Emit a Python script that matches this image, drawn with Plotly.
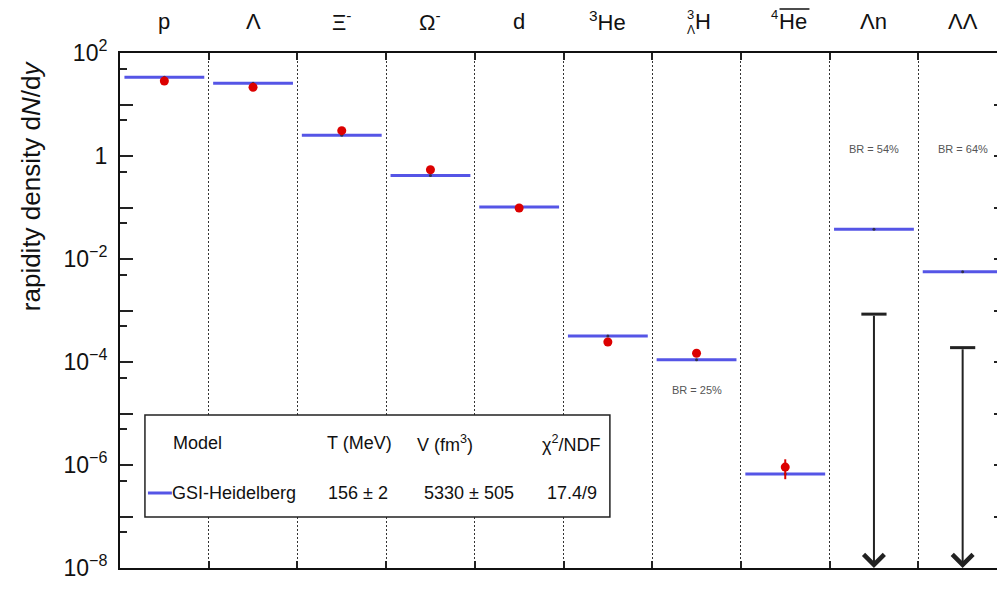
import plotly.graph_objects as go
import numpy as np

# ---------------- data ----------------
categories = ["p", "Λ", "Ξ<sup>-</sup>", "Ω<sup>-</sup>", "d", "<sup>3</sup>He",
              "H", "He", "Λn", "ΛΛ"]
cat_index = list(range(len(categories)))

# GSI-Heidelberg model yields (blue lines)
model_values = [33.7, 25.8, 2.52, 0.42, 0.102, 3.2e-4, 1.1e-4, 6.7e-7, 3.77e-2, 5.66e-3]

# measured yields (red points) for the first 8 species
data_index = [0, 1, 2, 3, 4, 5, 6, 7]
data_values = [28.6, 21.6, 3.1, 0.54, 0.098, 2.45e-4, 1.48e-4, 9.1e-7]
data_errors = [0.5, 0.4, 0.1, 0.02, 0.003, 0.35e-4, 0.2e-4, 0.38e-6]

# upper limits (arrows)
limit_index = [8, 9]
limit_values = [8.5e-4, 1.9e-4]

br_labels = ["BR = 25%", "BR = 54%", "BR = 64%"]

ytick_vals = [10.0 ** e for e in range(2, -9, -1)]
ytick_text = ["10<sup>2</sup>", "", "1", "", "10<sup>−2</sup>", "", "10<sup>−4</sup>", "",
              "10<sup>−6</sup>", "", "10<sup>−8</sup>"]
yminor_vals = [5 * 10.0 ** e for e in range(1, -9, -1)]

legend_header = ["Model", "T (MeV)", "V (fm<sup>3</sup>)", "χ<sup>2</sup>/NDF"]
legend_row = ["GSI-Heidelberg", "156 ± 2", "5330 ± 505", "17.4/9"]

BLUE = "rgb(85,85,230)"
RED = "rgb(220,0,0)"
FONT = "Liberation Sans, Arial, Helvetica, sans-serif"

OFF = 8  # page body margin offset
W, H = 1001, 582
L, R, T, B = 112, 0, 45, 22
pw, ph = W - L - R, H - T - B
x_lo, x_hi = -0.5, 9.5


def px(X):  # screen pixel -> paper x
    return (X - OFF - L) / pw


def py(Y):  # screen pixel -> paper y
    return (H - B - (Y - OFF)) / ph


fig = go.Figure()

# model lines as horizontal error bars
fig.add_trace(go.Scatter(
    x=cat_index, y=model_values, mode="markers",
    marker=dict(size=3, color="rgba(40,40,40,0.8)"),
    error_x=dict(type="constant", value=0.45, color=BLUE, thickness=3, width=0),
    showlegend=False, hoverinfo="skip"))

# data points
fig.add_trace(go.Scatter(
    x=data_index, y=data_values, mode="markers",
    marker=dict(size=9, color=RED),
    error_y=dict(type="data", array=data_errors, color=RED, thickness=2, width=0),
    showlegend=False))

# upper-limit caps
fig.add_trace(go.Scatter(
    x=limit_index, y=limit_values, mode="markers",
    marker=dict(symbol="line-ew", size=18, line=dict(width=3, color="#222")),
    showlegend=False))

annotations = []
# arrows
for xi, lv in zip(limit_index, limit_values):
    annotations.append(dict(
        x=xi, y=-8, ax=xi, ay=np.log10(lv), xref="x", yref="y", axref="x", ayref="y",
        text="", showarrow=True, arrowhead=4, arrowsize=2.0, arrowwidth=2,
        arrowcolor="#222", standoff=0, startstandoff=0))

TXT = dict(showarrow=False, xanchor="center", yanchor="middle", borderpad=0)

# category labels on top
top_y = py(21)
simple = {0: "p", 1: "Λ", 2: "Ξ<sup>-</sup>", 3: "Ω<sup>-</sup>", 4: "d",
          5: "<sup>3</sup>He", 8: "Λn", 9: "ΛΛ"}
for i, t in simple.items():
    annotations.append(dict(x=i, y=top_y, xref="x", yref="paper", text=t,
                            font=dict(size=22, family=FONT, color="#111"), **TXT))
# hypertriton
annotations.append(dict(x=6, y=top_y, xref="x", yref="paper", text="H", xshift=6,
                        font=dict(size=22, family=FONT, color="#111"), **TXT))
annotations.append(dict(x=6, y=top_y, xref="x", yref="paper", text="3", xshift=-6, yshift=7,
                        font=dict(size=13, family=FONT, color="#111"), **TXT))
annotations.append(dict(x=6, y=top_y, xref="x", yref="paper", text="Λ", xshift=-6, yshift=-9,
                        font=dict(size=12, family=FONT, color="#111"), **TXT))
# anti-alpha
annotations.append(dict(x=7, y=top_y, xref="x", yref="paper", text="He", xshift=8,
                        font=dict(size=22, family=FONT, color="#111"), **TXT))
annotations.append(dict(x=7, y=top_y, xref="x", yref="paper", text="4", xshift=-11, yshift=7,
                        font=dict(size=13, family=FONT, color="#111"), **TXT))

# BR labels
annotations.append(dict(x=6, y=py(390), xref="x", yref="paper", text=br_labels[0],
                        font=dict(size=11, family=FONT, color="#555"), **TXT))
annotations.append(dict(x=8, y=py(149), xref="x", yref="paper", text=br_labels[1],
                        font=dict(size=11, family=FONT, color="#555"), **TXT))
annotations.append(dict(x=9, y=py(149), xref="x", yref="paper", text=br_labels[2],
                        font=dict(size=11, family=FONT, color="#555"), **TXT))

# y title
annotations.append(dict(x=px(31), y=py(186), xref="paper", yref="paper",
                        text="rapidity density d<i>N</i>/d<i>y</i>", textangle=-90,
                        font=dict(size=26, family=FONT, color="#111"), **TXT))

# legend table
hx = [171, 325, 416, 541]
rx = [170, 326, 423, 546]
for t, X in zip(legend_header, hx):
    annotations.append(dict(x=px(X), y=py(443), xref="paper", yref="paper", text=t,
                            xanchor="left", yanchor="middle", showarrow=False,
                            font=dict(size=18, family=FONT, color="#111")))
for t, X in zip(legend_row, rx):
    annotations.append(dict(x=px(X), y=py(493), xref="paper", yref="paper", text=t,
                            xanchor="left", yanchor="middle", showarrow=False,
                            font=dict(size=18, family=FONT, color="#111")))

shapes = [
    dict(type="rect", xref="paper", yref="paper", x0=px(145), x1=px(611), y0=py(517), y1=py(415),
         line=dict(color="#222", width=1.5), fillcolor="white", layer="above"),
    dict(type="line", xref="paper", yref="paper", x0=px(148), x1=px(172), y0=py(493), y1=py(493),
         line=dict(color=BLUE, width=3), layer="above"),
    # overline of the anti-alpha label
    dict(type="line", xref="paper", yref="paper", x0=px(781), x1=px(811), y0=py(9), y1=py(9),
         line=dict(color="#111", width=1.5), layer="above"),
]

fig.update_layout(
    width=W, height=H,
    margin=dict(l=L, r=R, t=T, b=B, pad=0),
    paper_bgcolor="white", plot_bgcolor="white",
    font=dict(family=FONT, color="#111"),
    showlegend=False,
    annotations=annotations,
    shapes=shapes,
    xaxis=dict(range=[x_lo, x_hi], tickmode="array", tickvals=[i + 0.5 for i in range(9)],
               showticklabels=False, ticks="inside", ticklen=7, tickwidth=1.5, tickcolor="#222",
               showline=True, linecolor="#111", linewidth=2, mirror="ticks",
               showgrid=True, gridcolor="#333", gridwidth=1, griddash="1.5px,2.5px",
               zeroline=False, fixedrange=True),
    yaxis=dict(type="log", range=[-8, 2], tickmode="array", tickvals=ytick_vals,
               ticktext=ytick_text, ticks="inside", ticklen=13, tickwidth=1.5, tickcolor="#222",
               showline=True, linecolor="#111", linewidth=2, mirror="ticks",
               showgrid=False, zeroline=False, tickfont=dict(size=23, family=FONT, color="#111"),
               ticklabelstandoff=6,
               minor=dict(tickmode="array", tickvals=yminor_vals, ticks="inside", ticklen=7,
                          tickwidth=1.5, tickcolor="#222", showgrid=False)),
)

fig.write_html("out.html")
